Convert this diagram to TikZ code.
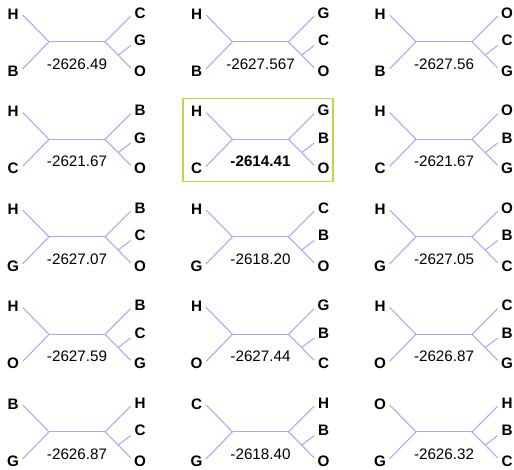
\documentclass[tikz,border=0pt]{standalone}
\usepackage{fontspec}
\setmainfont{Liberation Sans}
\usepackage{tikz}
\usetikzlibrary{positioning}

\definecolor{branchblue}{RGB}{168,168,248}
\definecolor{bestgreen}{RGB}{196,212,72}

% one unrooted tree: name, shift, left top, left bottom,
% right top, right middle, right bottom, score
\newcommand{\treecell}[8]{%
  \begin{scope}[shift={#2}]
    \coordinate (#1-lj) at (49,42.3);
    \coordinate (#1-rj) at (105,42.3);
    \coordinate (#1-mj) at (118.3,55.5);
    \coordinate (#1-ea) at (22.7,15.5);
    \coordinate (#1-eb) at (22.7,69.3);
    \coordinate (#1-ec) at (130.7,16.7);
    \coordinate (#1-ed) at (130.7,46);
    \coordinate (#1-ee) at (130.7,68.3);
    \node[taxon] (#1-a) at (13,14.3)  {#3};
    \node[taxon] (#1-b) at (13,71.7)  {#4};
    \node[taxon] (#1-c) at (140,13.6) {#5};
    \node[taxon] (#1-d) at (140,41)   {#6};
    \node[taxon] (#1-e) at (140,71.7) {#7};
    \node[score] (#1-s) at (77,64.5)  {#8};
    \draw[branch] (#1-ea) -- (#1-lj) -- (#1-eb);
    \draw[branch] (#1-lj) -- (#1-rj);
    \draw[branch] (#1-ec) -- (#1-rj) -- (#1-ee);
    \draw[branch] (#1-mj) -- (#1-ed);
  \end{scope}}

\begin{document}
\begin{tikzpicture}[
    x=0.75pt, y=-0.75pt,
    taxon/.style={inner sep=0pt, font=\fontsize{11.4}{13}\selectfont\bfseries},
    score/.style={inner sep=0pt, font=\fontsize{11.4}{13}\selectfont},
    branch/.style={draw=branchblue, line width=0.8pt},
    bestbox/.style={draw=bestgreen, line width=1.1pt, rectangle,
                    minimum width=112.5pt, minimum height=62.25pt}
]
    \useasboundingbox (0,0) rectangle (514,469);

    % ========== Row 1 ==========
    \treecell{t11}{(0,-0.5)}{H}{B}{C}{G}{O}{-2626.49}
    \treecell{t12}{(183.5,-0.5)}{H}{B}{G}{C}{O}{-2627.567}
    \treecell{t13}{(367,-0.5)}{H}{B}{O}{C}{G}{-2627.56}

    % ========== Row 2 ==========
    \treecell{t21}{(0,97)}{H}{C}{B}{G}{O}{-2621.67}
    \treecell{t22}{(183.5,97)}{H}{C}{G}{B}{O}{\textbf{-2614.41}}
    \treecell{t23}{(367,97)}{H}{C}{O}{B}{G}{-2621.67}

    % ========== Row 3 ==========
    \treecell{t31}{(0,194.5)}{H}{G}{B}{C}{O}{-2627.07}
    \treecell{t32}{(183.5,194.5)}{H}{G}{C}{B}{O}{-2618.20}
    \treecell{t33}{(367,194.5)}{H}{G}{O}{B}{C}{-2627.05}

    % ========== Row 4 ==========
    \treecell{t41}{(0,292)}{H}{O}{B}{C}{G}{-2627.59}
    \treecell{t42}{(183.5,292)}{H}{O}{G}{B}{C}{-2627.44}
    \treecell{t43}{(367,292)}{H}{O}{C}{B}{G}{-2626.87}

    % ========== Row 5 ==========
    \treecell{t51}{(0,389.5)}{B}{G}{H}{C}{O}{-2626.87}
    \treecell{t52}{(183.5,389.5)}{C}{G}{H}{B}{O}{-2618.40}
    \treecell{t53}{(367,389.5)}{O}{G}{H}{B}{C}{-2626.32}

    % --- best tree ---
    \node[bestbox] (best) at (258,139.75) {};
\end{tikzpicture}
\end{document}
